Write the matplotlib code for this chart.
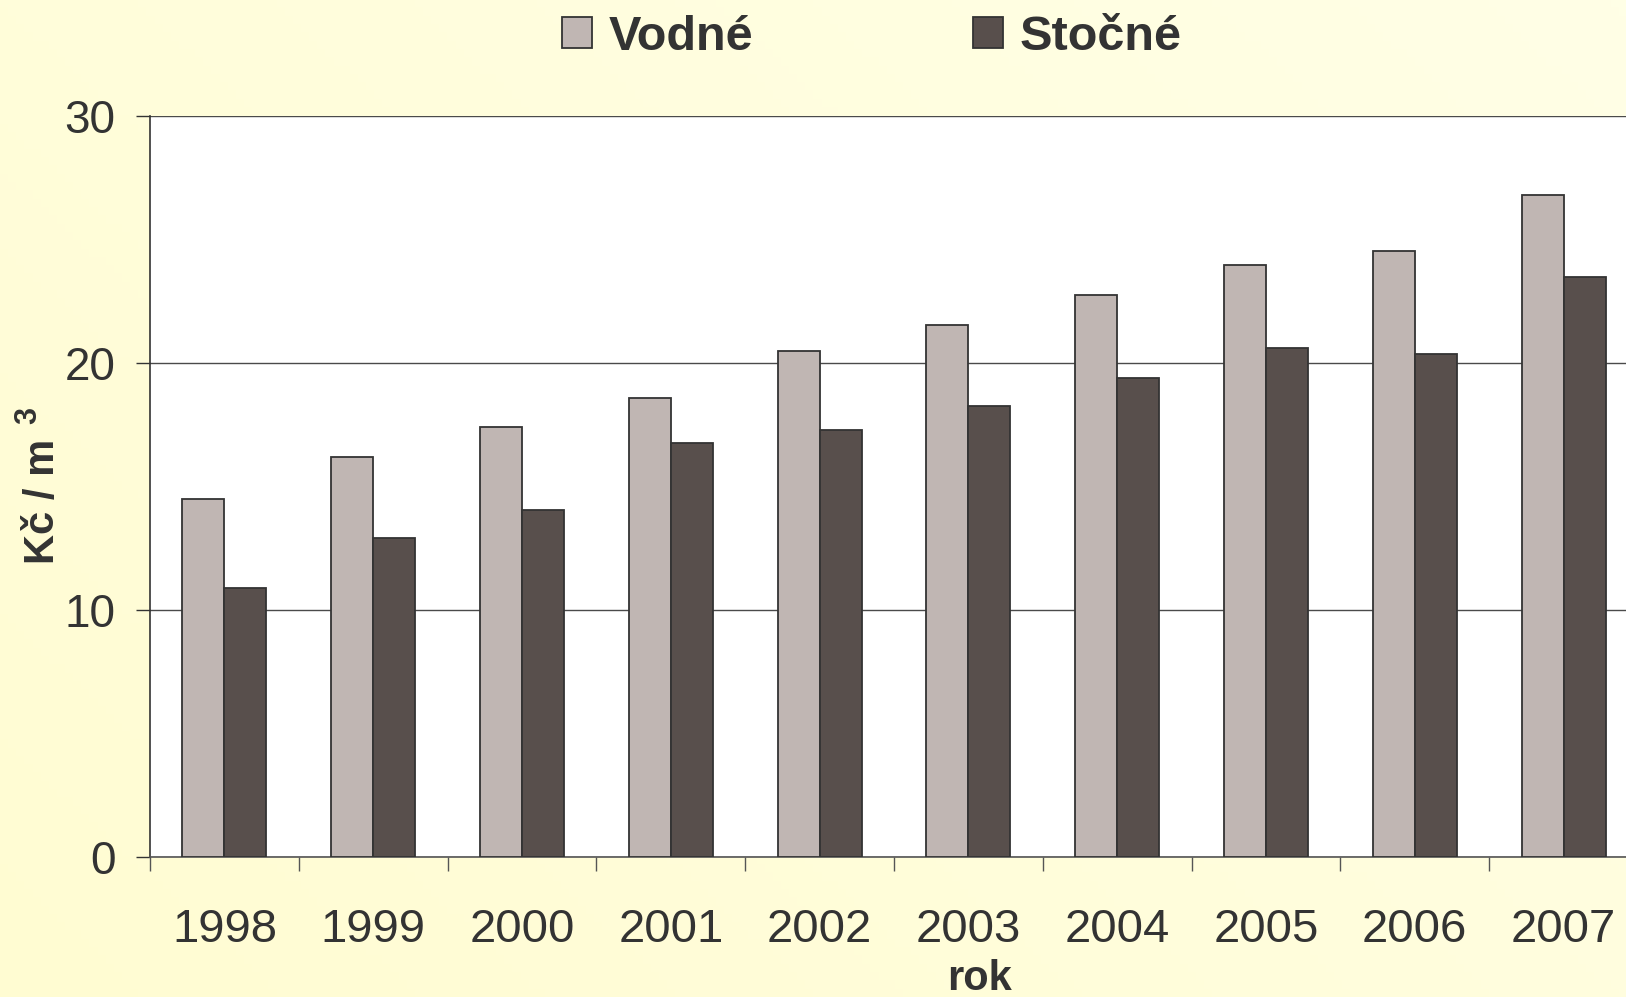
import numpy as np
import matplotlib
matplotlib.use("Agg")
import matplotlib.pyplot as plt
from matplotlib.colors import LinearSegmentedColormap

# data
years = ["1998", "1999", "2000", "2001", "2002", "2003", "2004", "2005", "2006", "2007"]
vodne = [14.5, 16.2, 17.4, 18.6, 20.5, 21.55, 22.75, 23.95, 24.55, 26.8]
stocne = [10.9, 12.9, 14.05, 16.75, 17.3, 18.25, 19.4, 20.6, 20.35, 23.5]

plt.rcParams["font.family"] = ["Liberation Sans", "DejaVu Sans"]
text_col = "#333333"

W, H = 1626, 997
fig = plt.figure(figsize=(W / 100, H / 100), dpi=100)

# pale yellow gradient background
bg = fig.add_axes([0, 0, 1, 1], zorder=-10)
cmap = LinearSegmentedColormap.from_list("bg", ["#fffcd2", "#ffffe6"])
gx, gy = np.meshgrid(np.linspace(0, 1, 200), np.linspace(0, 1, 120))
bg.imshow(0.6 * gx + 0.4 * gy, cmap=cmap, aspect="auto", origin="lower",
          extent=[0, 1, 0, 1])
bg.axis("off")

left = 150 / W
bottom = 1 - 857 / H
top = 1 - 116 / H
cat_w = 148.8 / W
ax = fig.add_axes([left, bottom, cat_w * 10, top - bottom])
ax.set_facecolor("white")

x = np.arange(len(years))
bw = 0.282
ax.bar(x - bw / 2, vodne, bw, color="#c0b6b3", edgecolor="#333333",
       linewidth=1.3, label="Vodné", zorder=3)
ax.bar(x + bw / 2, stocne, bw, color="#584f4c", edgecolor="#333333",
       linewidth=1.3, label="Stočné", zorder=3)

ax.set_xlim(-0.5, len(years) - 0.5)
ax.set_ylim(0, 30)
ax.set_yticks([0, 10, 20, 30])
ax.yaxis.grid(True, color="#4a4a4a", linewidth=1.0)
ax.set_axisbelow(True)

ax.set_xticks(x)
ax.set_xticklabels(years)
ax.set_xticks(np.arange(-0.5, len(years)), minor=True)
ax.tick_params(axis="x", which="major", length=0, pad=37, labelsize=34,
               labelcolor=text_col)
ax.tick_params(axis="x", which="minor", length=10, width=1, color="#555555",
               direction="out")
ax.tick_params(axis="y", length=10, width=1, color="#333333", pad=15,
               labelsize=33, labelcolor=text_col)

for s in ["top", "right"]:
    ax.spines[s].set_visible(False)
ax.spines["left"].set_color("#333333")
ax.spines["bottom"].set_color("#555555")
ax.spines["left"].set_linewidth(1.2)
ax.spines["bottom"].set_linewidth(1.2)

# axis titles placed where the reference has them
fig.text(979 / W, 1 - 979 / H, "rok", fontsize=30, fontweight="bold",
         color=text_col, ha="center", va="center")
fig.text(43 / W, 1 - 501 / H, "Kč / m", fontsize=30, fontweight="bold",
         color=text_col, ha="center", va="center", rotation=90)
fig.text(28 / W, 1 - 415 / H, "3", fontsize=22, fontweight="bold",
         color=text_col, ha="center", va="center", rotation=90)

fig.legend(loc="center left", bbox_to_anchor=(562 / W, 1 - 37 / H),
           ncol=2, frameon=False,
           prop={"weight": "bold", "size": 35},
           handlelength=0.62, handleheight=0.62, handletextpad=0.35,
           columnspacing=4.5, borderpad=0, borderaxespad=0,
           labelcolor=text_col)

fig.savefig("out.png", dpi=100)
